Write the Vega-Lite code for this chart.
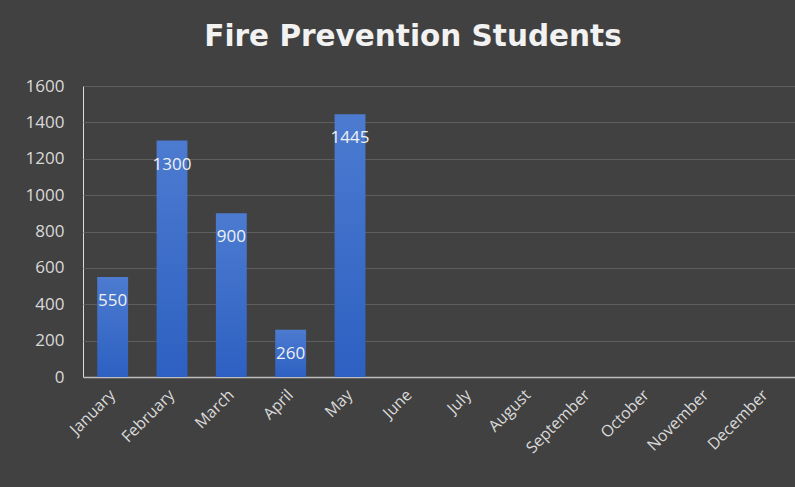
{
  "$schema": "https://vega.github.io/schema/vega-lite/v6.json",
  "width": 712,
  "height": 291,
  "autosize": {"type": "none"},
  "padding": {"left": 83, "top": 86, "right": 0, "bottom": 110},
  "background": "#414141",
  "title": {
    "text": "Fire Prevention Students",
    "font": "DejaVu Sans",
    "fontSize": 29.5,
    "fontWeight": "bold",
    "color": "#f2f2f2",
    "anchor": "middle",
    "dx": -26,
    "offset": 25
  },
  "data": {
    "values": [
      {"month": "January", "students": 550},
      {"month": "February", "students": 1300},
      {"month": "March", "students": 900},
      {"month": "April", "students": 260},
      {"month": "May", "students": 1445}
    ]
  },
  "encoding": {
    "x": {
      "field": "month",
      "type": "nominal",
      "scale": {
        "domain": ["January", "February", "March", "April", "May", "June", "July", "August", "September", "October", "November", "December"],
        "paddingInner": 0.48,
        "paddingOuter": 0.24
      },
      "axis": {
        "title": null,
        "labelAngle": -45,
        "labelAlign": "right",
        "labelBaseline": "middle",
        "labelFont": "Open Sans",
        "labelFontSize": 16,
        "labelColor": "#d9d9d9",
        "labelPadding": 15,
        "ticks": false,
        "domainColor": "#bfbfbf",
        "domainWidth": 1.5,
        "grid": false
      }
    },
    "y": {
      "field": "students",
      "type": "quantitative",
      "scale": {"domain": [0, 1600]},
      "axis": {
        "title": null,
        "format": "d",
        "values": [0, 200, 400, 600, 800, 1000, 1200, 1400, 1600],
        "labelFont": "Open Sans",
        "labelFontSize": 17,
        "labelColor": "#d9d9d9",
        "labelPadding": 19,
        "ticks": false,
        "domain": false,
        "grid": true,
        "gridColor": "#5e5e5e",
        "gridWidth": 1
      }
    }
  },
  "layer": [
    {
      "mark": {
        "type": "bar",
        "color": {
          "gradient": "linear",
          "x1": 0, "y1": 0, "x2": 0, "y2": 1,
          "stops": [
            {"offset": 0, "color": "#4c7bd0"},
            {"offset": 1, "color": "#2d60c2"}
          ]
        }
      }
    },
    {
      "mark": {
        "type": "text",
        "font": "Open Sans",
        "fontSize": 17,
        "color": "#f0f0f0",
        "baseline": "middle",
        "dy": 24
      },
      "encoding": {
        "text": {"field": "students", "type": "quantitative"}
      }
    }
  ]
}
